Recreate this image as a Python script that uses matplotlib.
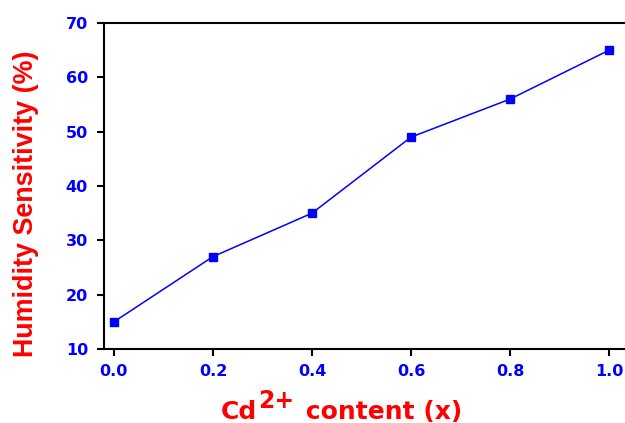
import matplotlib
matplotlib.use("Agg")
import matplotlib.pyplot as plt

x_vals = [0.0, 0.2, 0.4, 0.6, 0.8, 1.0]
sensitivity = [15, 27, 35, 49, 56, 65]
x_ticks = [0.0, 0.2, 0.4, 0.6, 0.8, 1.0]
y_ticks = [10, 20, 30, 40, 50, 60, 70]
y_label = 'Humidity Sensitivity (%)'
x_label_parts = ['Cd', '2+', ' content (x)']

BLUE = '#0000FF'
RED = '#FF0000'
W, H = 625, 423

fig = plt.figure(figsize=(W / 100, H / 100), dpi=100)
ax = fig.add_axes([104 / W, 1 - 349 / H, 1 - 104 / W, (349 - 23) / H])

ax.plot(x_vals, sensitivity, color=BLUE, lw=1.1, marker='s', ms=6,
        markeredgecolor=BLUE, markerfacecolor=BLUE)

ax.set_xlim(-0.02, 1.032)
ax.set_ylim(10, 70)
ax.set_xticks(x_ticks)
ax.set_xticklabels([f"{v:.1f}" for v in x_ticks])
ax.set_yticks(y_ticks)
ax.set_yticklabels([str(v) for v in y_ticks])

for s in ['left', 'bottom', 'top']:
    ax.spines[s].set_linewidth(1.5)
ax.spines['right'].set_visible(False)

ax.tick_params(direction='out', length=5, width=1.5, labelsize=11.5,
               labelcolor=BLUE)
ax.tick_params(axis='y', pad=6.5)
ax.tick_params(axis='x', pad=5.5)
for lab in ax.get_xticklabels() + ax.get_yticklabels():
    lab.set_fontweight('bold')
    lab.set_family('DejaVu Sans')

# y label
fig.text(26 / W, 1 - 203.5 / H, y_label, rotation=90, ha='center', va='center',
         color=RED, fontsize=19.4, fontweight='bold', family='Liberation Sans')

# x label with full-size raised superscript
renderer = fig.canvas.get_renderer()
base_y = 1 - 419 / H
sup_y = 1 - 408 / H
sizes = [18, 17, 18]
ys = [base_y, sup_y, base_y]
gaps = [1.5, 3.0, 0.0]
texts = []
for part, sz, yy in zip(x_label_parts, sizes, ys):
    t = fig.text(0, yy, part, ha='left', va='baseline', color=RED,
                 fontsize=sz, fontweight='bold', family='DejaVu Sans')
    texts.append(t)
widths = [t.get_window_extent(renderer).width for t in texts]
total = sum(widths) + sum(gaps)
x = 341.5 - total / 2
for t, w, g in zip(texts, widths, gaps):
    t.set_x(x / W)
    x += w + g

fig.savefig('out.png', dpi=100)
